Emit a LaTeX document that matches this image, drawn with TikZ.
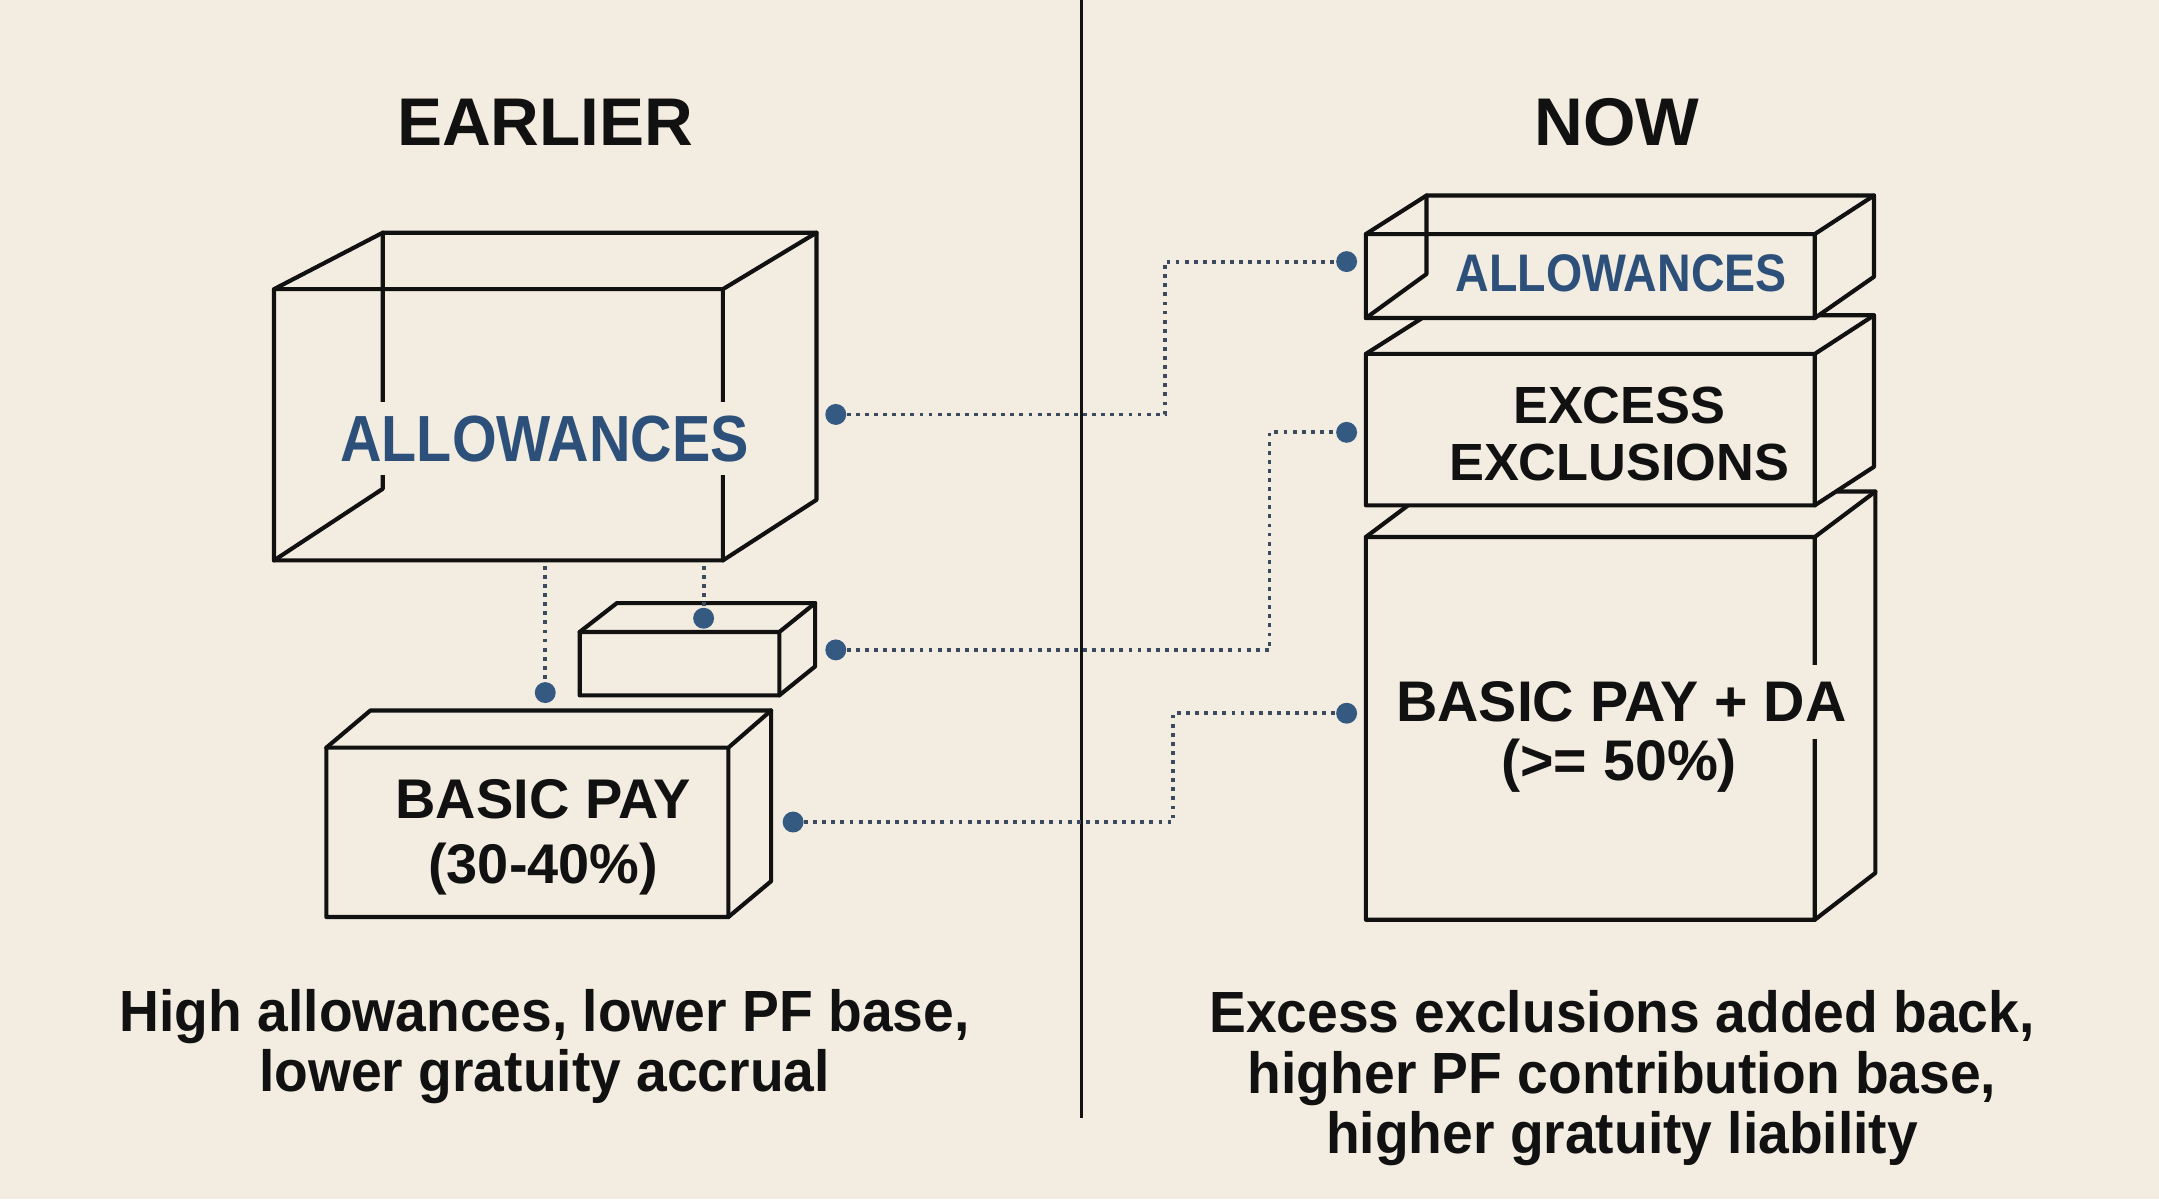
\documentclass[tikz,border=0pt]{standalone}
\usepackage{fontspec}
\setmainfont{Liberation Sans}
\newfontfamily\boxfont[FakeStretch=0.88]{Liberation Sans}
\newfontfamily\capfont[FakeStretch=0.95]{Liberation Sans}
\usepackage{tikz}

\definecolor{bgcol}{HTML}{F3ECE0}
\definecolor{inkcol}{HTML}{111111}
\definecolor{labelblue}{HTML}{2C5079}
\definecolor{dotblue}{HTML}{355A82}
\definecolor{linkcol}{HTML}{3B4A5E}

\begin{document}
\begin{tikzpicture}[x=0.5pt, y=-0.5pt,
    boxface/.style={fill=bgcol, draw=inkcol, line width=1.5pt, line join=round},
    boxrim/.style={draw=inkcol, line width=1.5pt, line join=round, line cap=round},
    link/.style={draw=linkcol, line width=1.4pt, dash pattern=on 1.4pt off 1.9pt},
    bead/.style={circle, fill=dotblue, minimum size=7.6pt, inner sep=0pt},
    headtxt/.style={font=\bfseries\fontsize{24.5}{29}\selectfont, text=inkcol, inner sep=0pt},
    boxtxt/.style 2 args={font=\bfseries\fontsize{#1}{#2}\selectfont, text=inkcol, align=center, inner sep=0pt},
    allowtxt/.style={font=\boxfont\bfseries\fontsize{#1}{#1}\selectfont, text=labelblue, inner sep=0pt},
    foottxt/.style={font=\capfont\bfseries\fontsize{21.1}{22}\selectfont, text=inkcol, align=center, inner sep=0pt, anchor=north}]
    \useasboundingbox (0,0) rectangle (1568,871);
    \fill[bgcol] (0,0) rectangle (1568,871);

    % Divider
    \draw[inkcol, line width=0.9pt] (785.5,0) -- (785.5,812);

    % Headings
    \node[headtxt] (tEarlier) at (396,88.5) {EARLIER};
    \node[headtxt] (tNow) at (1174.5,88.5) {NOW};

    % Allowances box, earlier (see-through)
    \draw[boxface] (199,210) -- (278,169) -- (593,169) -- (593,363) -- (525,407) -- (199,407) -- cycle;
    \draw[boxrim] (199,210) -- (525,210) -- (525,407) (525,210) -- (593,169);
    \draw[boxrim] (278,169) -- (278,355) -- (199,407);
    \node[allowtxt=23.7, fill=bgcol, inner xsep=1pt, inner ysep=5pt] (lAllow) at (395.5,318.5) {ALLOWANCES};

    % Small box
    \draw[boxface] (421,459) -- (448,438) -- (592,438) -- (592,484) -- (566,505) -- (421,505) -- cycle;
    \draw[boxrim] (421,459) -- (566,459) -- (566,505) (566,459) -- (592,438);

    % Basic pay box, earlier
    \draw[boxface] (237,543) -- (269,516) -- (560,516) -- (560,640) -- (529,666) -- (237,666) -- cycle;
    \draw[boxrim] (237,543) -- (529,543) -- (529,666) (529,543) -- (560,516);
    \node[boxtxt={20.3}{23.5}, anchor=north] (lBasic) at (394.5,566) {BASIC PAY\\(30-40\%)};

    % Stack, now
    \draw[boxface] (992,390) -- (1036,357) -- (1362,357) -- (1362,634) -- (1318,668) -- (992,668) -- cycle;
    \draw[boxrim] (992,390) -- (1318,390) -- (1318,668) (1318,390) -- (1362,357);
    \node[boxtxt={20.8}{23}, fill=bgcol, inner xsep=1pt, inner ysep=6pt] (rBasic) at (1177.5,510) {BASIC PAY + DA};
    \node[boxtxt={20.8}{23}] (rShare) at (1176,556) {(>= 50\%)};

    \draw[boxface] (992,257) -- (1036,229) -- (1361,229) -- (1361,339) -- (1318,367) -- (992,367) -- cycle;
    \draw[boxrim] (992,257) -- (1318,257) -- (1318,367) (1318,257) -- (1361,229);
    \node[boxtxt={19}{20.6}, anchor=north] (rExcess) at (1176,280.5) {EXCESS\\EXCLUSIONS};

    \draw[boxface] (992,170) -- (1036,142) -- (1361,142) -- (1361,201) -- (1318,231) -- (992,231) -- cycle;
    \draw[boxrim] (992,170) -- (1318,170) -- (1318,231) (1318,170) -- (1361,142);
    \draw[boxrim] (1036,142) -- (1036,199) -- (992,231);
    \node[allowtxt=19.2] (rAllow) at (1177.5,198.5) {ALLOWANCES};

    % Dots and dotted links
    \node[bead] (dAllowL) at (607,301) {};
    \node[bead] (dSmallR) at (607,472) {};
    \node[bead] (dBasicL) at (576,597) {};
    \node[bead] (dSmallTop) at (511,449) {};
    \node[bead] (dBasicTop) at (396,503) {};
    \node[bead] (dAllowR) at (978,190) {};
    \node[bead] (dExcessR) at (978,314) {};
    \node[bead] (dBasicR) at (978,518) {};

    \coordinate (kneeA) at (846,0);
    \coordinate (kneeB) at (922,0);
    \coordinate (kneeC) at (852,0);
    \coordinate (allowBase) at (0,411);

    \draw[link] (dAllowL) -| (kneeA |- dAllowR) -- (dAllowR);
    \draw[link] (dSmallR) -| (kneeB |- dExcessR) -- (dExcessR);
    \draw[link] (dBasicL) -| (kneeC |- dBasicR) -- (dBasicR);
    \draw[link] (dSmallTop |- allowBase) -- (dSmallTop);
    \draw[link] (dBasicTop |- allowBase) -- (dBasicTop);

    % Captions
    \node[foottxt] (capEarlier) at (395.5,718) {High allowances, lower PF base,\\lower gratuity accrual};
    \node[foottxt] (capNow) at (1178,719) {Excess exclusions added back,\\higher PF contribution base,\\higher gratuity liability};
\end{tikzpicture}
\end{document}
